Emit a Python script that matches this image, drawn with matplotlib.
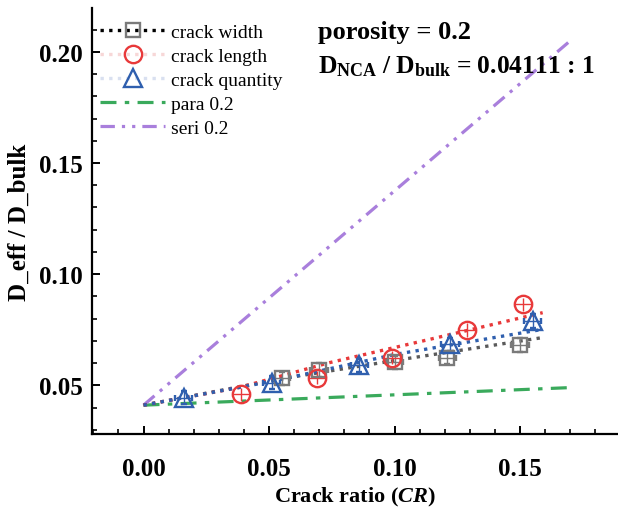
import matplotlib
matplotlib.use("Agg")
import matplotlib.pyplot as plt
from matplotlib.lines import Line2D
from matplotlib.ticker import MultipleLocator, FormatStrFormatter

plt.rcParams['font.family'] = ['Liberation Serif', 'DejaVu Serif']
plt.rcParams['mathtext.fontset'] = 'custom'
plt.rcParams['mathtext.rm'] = 'Liberation Serif:bold'
plt.rcParams['mathtext.bf'] = 'Liberation Serif:bold'
plt.rcParams['mathtext.it'] = 'Liberation Serif:italic:bold'

# ---- data ----
width_x = [0.055, 0.070, 0.100, 0.121, 0.150]
width_y = [0.0532, 0.0569, 0.0604, 0.0625, 0.0682]
length_x = [0.039, 0.069, 0.099, 0.129, 0.151]
length_y = [0.0459, 0.0535, 0.0625, 0.0749, 0.0865]
quant_x = [0.016, 0.051, 0.086, 0.122, 0.155]
quant_y = [0.0445, 0.0512, 0.0590, 0.0685, 0.0790]

fit_width_x = [0.0, 0.055, 0.103, 0.159]
fit_width_y = [0.0411, 0.0530, 0.0617, 0.0715]
fit_length_x = [0.0, 0.038, 0.074, 0.114, 0.159]
fit_length_y = [0.0411, 0.0490, 0.0602, 0.0707, 0.0827]
fit_quant_x = [0.0, 0.0515, 0.1006, 0.159]
fit_quant_y = [0.0411, 0.0519, 0.0640, 0.0752]

para_x = [0.0, 0.17]
para_y = [0.0411, 0.0490]
seri_x = [0.0, 0.17]
seri_y = [0.0411, 0.2050]

xerr_val = 0.0035
yerr_val = 0.0030

legend_labels = ['crack width', 'crack length', 'crack quantity', 'para 0.2', 'seri 0.2']

c_gray = '#7a7a7a'
c_gray_line = '#5a5a5a'
c_red = '#e8393a'
c_blue = '#2f5fae'
c_green = '#3aaa5c'
c_purple = '#a97fdc'

dot = (0, (1, 1.6))
dashdot = (0, (5, 2.6, 1.4, 2.6))
dashdotdot = (0, (4.5, 2.2, 1, 2.2, 1, 2.2))

fig = plt.figure(figsize=(6.18, 5.10), dpi=100)
ax = fig.add_axes([0.1494, 0.1465, 0.8506, 0.8353])

# fit lines
ax.plot(fit_width_x, fit_width_y, color=c_gray_line, lw=2.4, ls=dot, zorder=2)
ax.plot(fit_length_x, fit_length_y, color=c_red, lw=2.4, ls=dot, zorder=2)
ax.plot(fit_quant_x, fit_quant_y, color=c_blue, lw=2.4, ls=dot, zorder=2)

# model lines
ax.plot(para_x, para_y, color=c_green, lw=2.3, ls=dashdot, zorder=1)
ax.plot(seri_x, seri_y, color=c_purple, lw=2.3, ls=dashdotdot, zorder=1)

# markers with error bars
ms_sq, ms_c, ms_t = 10.5, 12.5, 13
ax.errorbar(width_x, width_y, xerr=xerr_val, yerr=yerr_val, fmt='s', ms=ms_sq,
            mfc='none', mec=c_gray, mew=1.7, ecolor=c_gray, elinewidth=1.0,
            capsize=2, zorder=3)
ax.errorbar(length_x, length_y, xerr=xerr_val, yerr=yerr_val, fmt='o', ms=ms_c,
            mfc='none', mec=c_red, mew=1.7, ecolor=c_red, elinewidth=1.0,
            capsize=0, zorder=3)
ax.errorbar(quant_x, quant_y, xerr=xerr_val, yerr=yerr_val, fmt='^', ms=ms_t,
            mfc='none', mec=c_blue, mew=1.7, ecolor=c_blue, elinewidth=1.0,
            capsize=2, zorder=3)

ax.set_xlim(-0.0204, 0.189)
ax.set_ylim(0.028, 0.2196)

ax.xaxis.set_major_locator(MultipleLocator(0.05))
ax.xaxis.set_minor_locator(MultipleLocator(0.01))
ax.yaxis.set_major_locator(MultipleLocator(0.05))
ax.yaxis.set_minor_locator(MultipleLocator(0.01))
ax.xaxis.set_major_formatter(FormatStrFormatter('%.2f'))
ax.yaxis.set_major_formatter(FormatStrFormatter('%.2f'))

for s in ['top', 'right']:
    ax.spines[s].set_visible(False)
for s in ['left', 'bottom']:
    ax.spines[s].set_linewidth(1.6)

ax.tick_params(which='major', direction='in', length=6, width=1.4, labelsize=18)
ax.tick_params(axis='x', which='major', pad=16)
ax.tick_params(axis='y', which='major', pad=7)
ax.tick_params(which='minor', direction='in', length=3.5, width=1.2)
for lab in ax.get_xticklabels() + ax.get_yticklabels():
    lab.set_fontweight('bold')

ax.set_xlabel(r'Crack ratio ($\mathit{CR}$)', fontsize=16, fontweight='bold', labelpad=4)
ax.set_ylabel('D_eff / D_bulk', fontsize=18, fontweight='bold', labelpad=6)

# legend
handles = [
    Line2D([], [], color='black', ls=dot, lw=2.4, marker='s', ms=ms_sq,
           mfc='none', mec=c_gray, mew=1.7),
    Line2D([], [], color='#f7d7d7', ls=dot, lw=2.4, marker='o', ms=ms_c,
           mfc='none', mec=c_red, mew=1.7),
    Line2D([], [], color='#d9e0f0', ls=dot, lw=2.4, marker='^', ms=ms_t,
           mfc='none', mec=c_blue, mew=1.7),
    Line2D([], [], color=c_green, lw=2.3, ls=dashdot),
    Line2D([], [], color=c_purple, lw=2.3, ls=dashdotdot),
]
leg = ax.legend(handles, legend_labels, loc='upper left', bbox_to_anchor=(-0.003, 0.988),
                frameon=False, fontsize=14, handlelength=3.3, handletextpad=0.35,
                labelspacing=0.33, borderaxespad=0.1)

fig.text(0.514, 0.9235, 'porosity = 0.2', fontsize=19, fontweight='bold',
         ha='left', va='baseline')
fig.text(0.514, 0.857, r'D$_{\mathbf{NCA}}$ / D$_{\mathbf{bulk}}$ = 0.04111 : 1',
         fontsize=18.4, fontweight='bold', ha='left', va='baseline')

fig.savefig('out.png', dpi=100)
